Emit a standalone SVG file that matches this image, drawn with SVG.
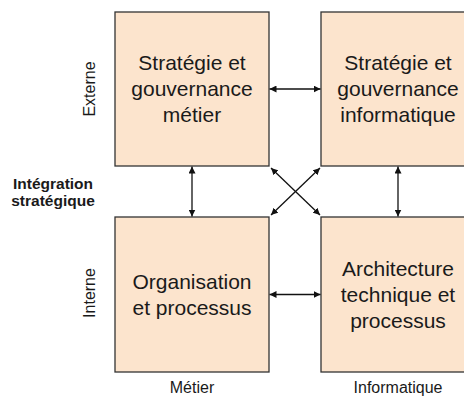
<svg xmlns="http://www.w3.org/2000/svg" width="464" height="398" viewBox="0 0 464 398">
<defs>
<marker id="ah" viewBox="0 0 10 10" refX="10" refY="5" markerWidth="7" markerHeight="7" markerUnits="userSpaceOnUse" orient="auto-start-reverse">
<path d="M0,0 L10,5 L0,10 z" fill="#111"/>
</marker>
<style>
.box{fill:#FCE4CD;stroke:#333;stroke-width:1.3}
.bt{font-family:"Liberation Sans",Arial,sans-serif;font-size:21px;fill:#1a1a1a;text-anchor:middle}
.lb{font-family:"Liberation Sans",Arial,sans-serif;font-size:16px;fill:#1a1a1a;text-anchor:middle}
.bold{font-weight:bold;font-size:15.5px}
.cn{stroke:#111;stroke-width:1.3;fill:none;marker-start:url(#ah);marker-end:url(#ah)}
</style>
</defs>
<rect width="464" height="398" fill="#fff"/>
<g id="n-strat-metier">
<rect class="box" x="115" y="12" width="154" height="154"/>
<text class="bt" x="192" y="70">Stratégie et</text>
<text class="bt" x="192" y="96">gouvernance</text>
<text class="bt" x="192" y="122">métier</text>
</g>
<g id="n-strat-info">
<rect class="box" x="321" y="12" width="154" height="154"/>
<text class="bt" x="398" y="70">Stratégie et</text>
<text class="bt" x="398" y="96">gouvernance</text>
<text class="bt" x="398" y="122">informatique</text>
</g>
<g id="n-orga">
<rect class="box" x="115" y="217" width="154" height="155"/>
<text class="bt" x="192" y="289">Organisation</text>
<text class="bt" x="192" y="315">et processus</text>
</g>
<g id="n-archi">
<rect class="box" x="321" y="217" width="154" height="155"/>
<text class="bt" x="398" y="276">Architecture</text>
<text class="bt" x="398" y="302">technique et</text>
<text class="bt" x="398" y="328">processus</text>
</g>
<g id="connectors">
<line class="cn" x1="192" y1="166.5" x2="192" y2="216.5"/>
<line class="cn" x1="398" y1="166.5" x2="398" y2="216.5"/>
<line class="cn" x1="269.5" y1="89" x2="320.5" y2="89"/>
<line class="cn" x1="269.5" y1="294.5" x2="320.5" y2="294.5"/>
<line class="cn" x1="271" y1="168" x2="320" y2="215"/>
<line class="cn" x1="320" y1="168" x2="271" y2="215"/>
</g>
<g id="labels">
<text class="lb" transform="translate(95,89) rotate(-90)">Externe</text>
<text class="lb" transform="translate(95,293) rotate(-90)">Interne</text>
<text class="lb bold" x="53" y="189">Intégration</text>
<text class="lb bold" x="53" y="206">stratégique</text>
<text class="lb" x="192" y="393">Métier</text>
<text class="lb" x="398" y="393">Informatique</text>
</g>
</svg>
